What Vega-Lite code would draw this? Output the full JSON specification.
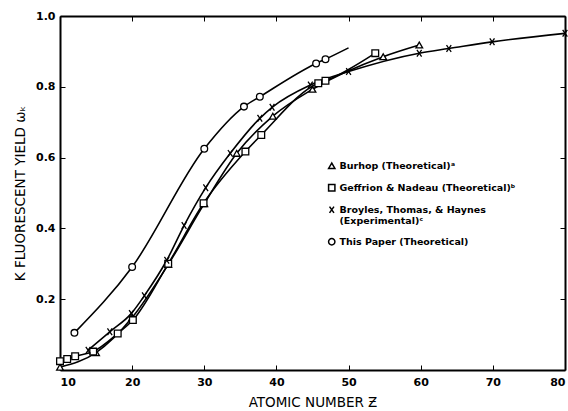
{
  "$schema": "https://vega.github.io/schema/vega-lite/v6.json",
  "width": 505,
  "height": 354,
  "autosize": {"type": "none"},
  "padding": {"left": 60, "top": 16, "right": 3, "bottom": 41},
  "background": "white",
  "config": {
    "view": {"stroke": null},
    "axis": {
      "domainColor": "black", "domainWidth": 2,
      "labelFont": "DejaVu Sans", "labelFontWeight": "bold", "labelFontSize": 11, "labelColor": "black",
      "titleFont": "DejaVu Sans", "titleFontWeight": "normal", "titleFontSize": 13.5, "titleColor": "black",
      "grid": false
    }
  },
  "data": {"values": [
    {"series": "This Paper (Theoretical)", "Z": 12, "w": 0.105, "marker": true},
    {"series": "This Paper (Theoretical)", "Z": 20, "w": 0.291, "marker": true},
    {"series": "This Paper (Theoretical)", "Z": 30, "w": 0.625, "marker": true},
    {"series": "This Paper (Theoretical)", "Z": 35.5, "w": 0.744, "marker": true},
    {"series": "This Paper (Theoretical)", "Z": 37.7, "w": 0.772, "marker": true},
    {"series": "This Paper (Theoretical)", "Z": 45.5, "w": 0.866, "marker": true},
    {"series": "This Paper (Theoretical)", "Z": 46.8, "w": 0.878, "marker": true},
    {"series": "This Paper (Theoretical)", "Z": 50, "w": 0.91, "marker": false},

    {"series": "Burhop (Theoretical)ᵃ", "Z": 10, "w": 0.008, "marker": true},
    {"series": "Burhop (Theoretical)ᵃ", "Z": 15, "w": 0.049, "marker": true},
    {"series": "Burhop (Theoretical)ᵃ", "Z": 20, "w": 0.148, "marker": true},
    {"series": "Burhop (Theoretical)ᵃ", "Z": 25, "w": 0.298, "marker": true},
    {"series": "Burhop (Theoretical)ᵃ", "Z": 30, "w": 0.47, "marker": true},
    {"series": "Burhop (Theoretical)ᵃ", "Z": 34.5, "w": 0.612, "marker": true},
    {"series": "Burhop (Theoretical)ᵃ", "Z": 39.5, "w": 0.717, "marker": true},
    {"series": "Burhop (Theoretical)ᵃ", "Z": 45, "w": 0.793, "marker": true},
    {"series": "Burhop (Theoretical)ᵃ", "Z": 54.8, "w": 0.885, "marker": true},
    {"series": "Burhop (Theoretical)ᵃ", "Z": 59.8, "w": 0.918, "marker": true},

    {"series": "Geffrion & Nadeau (Theoretical)ᵇ", "Z": 10, "w": 0.025, "marker": true},
    {"series": "Geffrion & Nadeau (Theoretical)ᵇ", "Z": 11, "w": 0.031, "marker": true},
    {"series": "Geffrion & Nadeau (Theoretical)ᵇ", "Z": 12.1, "w": 0.039, "marker": true},
    {"series": "Geffrion & Nadeau (Theoretical)ᵇ", "Z": 14.6, "w": 0.052, "marker": true},
    {"series": "Geffrion & Nadeau (Theoretical)ᵇ", "Z": 18, "w": 0.103, "marker": true},
    {"series": "Geffrion & Nadeau (Theoretical)ᵇ", "Z": 20.1, "w": 0.141, "marker": true},
    {"series": "Geffrion & Nadeau (Theoretical)ᵇ", "Z": 25, "w": 0.3, "marker": true},
    {"series": "Geffrion & Nadeau (Theoretical)ᵇ", "Z": 29.9, "w": 0.471, "marker": true},
    {"series": "Geffrion & Nadeau (Theoretical)ᵇ", "Z": 35.7, "w": 0.617, "marker": true},
    {"series": "Geffrion & Nadeau (Theoretical)ᵇ", "Z": 37.9, "w": 0.664, "marker": true},
    {"series": "Geffrion & Nadeau (Theoretical)ᵇ", "Z": 45.8, "w": 0.81, "marker": true},
    {"series": "Geffrion & Nadeau (Theoretical)ᵇ", "Z": 46.8, "w": 0.817, "marker": true},
    {"series": "Geffrion & Nadeau (Theoretical)ᵇ", "Z": 53.7, "w": 0.895, "marker": true},

    {"series": "Broyles, Thomas, & Haynes (Experimental)ᶜ", "Z": 13.9, "w": 0.056, "marker": true},
    {"series": "Broyles, Thomas, & Haynes (Experimental)ᶜ", "Z": 16.9, "w": 0.108, "marker": true},
    {"series": "Broyles, Thomas, & Haynes (Experimental)ᶜ", "Z": 19.9, "w": 0.16, "marker": true},
    {"series": "Broyles, Thomas, & Haynes (Experimental)ᶜ", "Z": 21.7, "w": 0.21, "marker": true},
    {"series": "Broyles, Thomas, & Haynes (Experimental)ᶜ", "Z": 24.8, "w": 0.31, "marker": true},
    {"series": "Broyles, Thomas, & Haynes (Experimental)ᶜ", "Z": 27.2, "w": 0.408, "marker": true},
    {"series": "Broyles, Thomas, & Haynes (Experimental)ᶜ", "Z": 30.2, "w": 0.515, "marker": true},
    {"series": "Broyles, Thomas, & Haynes (Experimental)ᶜ", "Z": 33.6, "w": 0.612, "marker": true},
    {"series": "Broyles, Thomas, & Haynes (Experimental)ᶜ", "Z": 37.7, "w": 0.711, "marker": true},
    {"series": "Broyles, Thomas, & Haynes (Experimental)ᶜ", "Z": 39.4, "w": 0.742, "marker": true},
    {"series": "Broyles, Thomas, & Haynes (Experimental)ᶜ", "Z": 44.7, "w": 0.805, "marker": true},
    {"series": "Broyles, Thomas, & Haynes (Experimental)ᶜ", "Z": 50, "w": 0.843, "marker": true},
    {"series": "Broyles, Thomas, & Haynes (Experimental)ᶜ", "Z": 59.8, "w": 0.895, "marker": true},
    {"series": "Broyles, Thomas, & Haynes (Experimental)ᶜ", "Z": 63.9, "w": 0.908, "marker": true},
    {"series": "Broyles, Thomas, & Haynes (Experimental)ᶜ", "Z": 69.9, "w": 0.927, "marker": true},
    {"series": "Broyles, Thomas, & Haynes (Experimental)ᶜ", "Z": 80, "w": 0.951, "marker": true}
  ]},
  "layer": [
    {
      "mark": {"type": "line", "interpolate": "monotone", "color": "black", "strokeWidth": 1.6, "clip": true},
      "encoding": {
        "x": {"field": "Z", "type": "quantitative", "scale": {"domain": [10, 80], "nice": false},
          "axis": {"orient": "bottom", "values": [10, 20, 30, 40, 50, 60, 70, 80], "ticks": false, "labelPadding": 6,
            "title": "ATOMIC NUMBER Ƶ", "titlePadding": 8}},
        "y": {"field": "w", "type": "quantitative", "scale": {"domain": [0, 1], "nice": false},
          "axis": {"orient": "left", "values": [0.2, 0.4, 0.6, 0.8, 1.0], "format": ".1f", "ticks": false, "labelPadding": 5,
            "title": "K FLUORESCENT YIELD ωₖ", "titlePadding": 8}},
        "detail": {"field": "series"},
        "order": {"field": "Z"}
      }
    },
    {
      "transform": [{"filter": "datum.marker"}],
      "mark": {"type": "point", "opacity": 0},
      "encoding": {
        "x": {"field": "Z", "type": "quantitative",
          "axis": {"orient": "bottom", "offset": -354, "values": [10, 20, 30, 40, 50, 60, 70, 80], "domain": false, "tickSize": 5, "tickColor": "black", "labels": false, "title": null}},
        "y": {"field": "w", "type": "quantitative",
          "axis": {"orient": "left", "offset": -505, "values": [0.2, 0.4, 0.6, 0.8, 1.0], "domain": false, "tickSize": 5, "tickColor": "black", "labels": false, "title": null}}
      }
    },
    {
      "transform": [{"filter": "datum.marker"}],
      "mark": {"type": "point", "opacity": 0},
      "encoding": {
        "x": {"field": "Z", "type": "quantitative",
          "axis": {"orient": "top", "values": [10, 20, 30, 40, 50, 60, 70, 80], "ticks": false, "labels": false, "title": null}},
        "y": {"field": "w", "type": "quantitative",
          "axis": {"orient": "right", "values": [0.2, 0.4, 0.6, 0.8, 1.0], "ticks": false, "labels": false, "title": null}}
      }
    },
    {
      "transform": [{"filter": "datum.marker"}],
      "mark": {"type": "point", "filled": false, "fill": "white", "stroke": "black", "strokeWidth": 1.3, "size": 45, "opacity": 1},
      "encoding": {
        "x": {"field": "Z", "type": "quantitative",
          "axis": {"orient": "top", "offset": -354, "values": [10, 20, 30, 40, 50, 60, 70, 80], "domain": false, "tickSize": 5, "tickColor": "black", "labels": false, "title": null}},
        "y": {"field": "w", "type": "quantitative",
          "axis": {"orient": "right", "offset": -505, "values": [0.2, 0.4, 0.6, 0.8, 1.0], "domain": false, "tickSize": 5, "tickColor": "black", "labels": false, "title": null}},
        "shape": {"field": "series", "type": "nominal",
          "scale": {
            "domain": ["Burhop (Theoretical)ᵃ", "Geffrion & Nadeau (Theoretical)ᵇ", "Broyles, Thomas, & Haynes (Experimental)ᶜ", "This Paper (Theoretical)"],
            "range": ["triangle-up", "square", "M-0.7,-1L0.7,1M-0.7,1L0.7,-1", "circle"]
          },
          "legend": {
            "title": null, "orient": "none", "legendX": 267, "legendY": 145,
            "labelFont": "DejaVu Sans", "labelFontWeight": "bold", "labelFontSize": 9.5, "labelColor": "black",
            "labelLimit": 300, "rowPadding": 9, "symbolSize": 40, "labelOffset": 3,
            "labelExpr": "indexof(datum.label, 'Broyles') == 0 ? ['Broyles, Thomas, & Haynes', '\u2003\u2003(Experimental)ᶜ'] : datum.label"
          }
        }
      }
    }
  ],
  "resolve": {"axis": {"x": "independent", "y": "independent"}}
}
